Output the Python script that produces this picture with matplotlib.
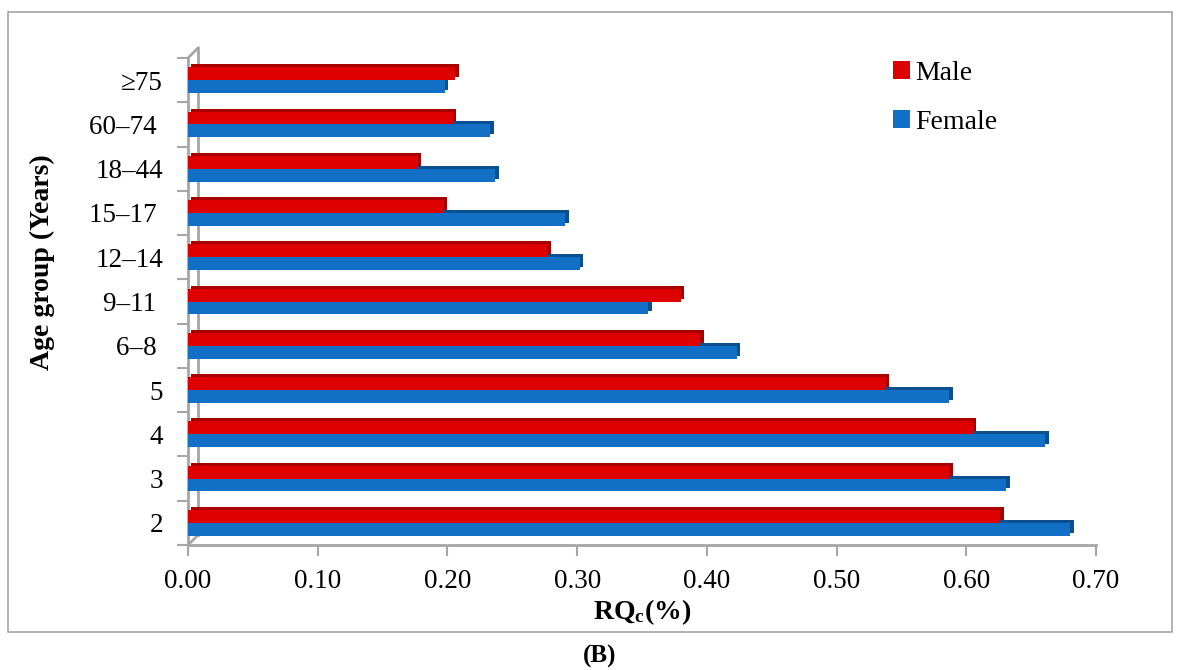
import matplotlib
matplotlib.use("Agg")
import matplotlib.pyplot as plt
import matplotlib.transforms as mtransforms
from matplotlib.patches import Rectangle, Patch
import numpy as np

categories = ["2", "3", "4", "5", "6–8 ", "9–11 ", "12–14", "15–17 ", "18–44", "60–74 ", "≥75"]
male = [0.626, 0.587, 0.605, 0.538, 0.395, 0.380, 0.277, 0.197, 0.177, 0.204, 0.206]
female = [0.680, 0.631, 0.661, 0.587, 0.423, 0.355, 0.302, 0.291, 0.237, 0.233, 0.198]
xticks = [0.0, 0.1, 0.2, 0.3, 0.4, 0.5, 0.6, 0.7]

plt.rcParams['font.family'] = ['Liberation Serif', 'DejaVu Serif']
plt.rcParams['mathtext.fontset'] = 'custom'
plt.rcParams['mathtext.rm'] = 'Liberation Serif'
plt.rcParams['mathtext.bf'] = 'Liberation Serif:bold'

RED, RED_D = '#DE0000', '#A80000'
BLUE, BLUE_D = '#1170C6', '#0B4F90'
GRAY = '#A6A6A6'

W, H = 1180, 670
fig = plt.figure(figsize=(W/100, H/100), dpi=100)
L, R, B, T = 188, 1096, 545, 58
ax = fig.add_axes([L/W, 1 - B/H, (R-L)/W, (B-T)/H])

y = np.arange(len(categories))
h = 0.29
off = mtransforms.ScaledTranslation(3.5/100, 3/100, fig.dpi_scale_trans)
shadow = ax.transData + off
# 3D sides (offset darker copies)
ax.barh(y + h/2, male, height=h, color=RED_D, transform=shadow, zorder=2)
ax.barh(y - h/2, female, height=h, color=BLUE_D, transform=shadow, zorder=2)
ax.barh(y + h/2, male, height=h, color=RED, zorder=3, label='Male')
ax.barh(y - h/2, female, height=h, color=BLUE, zorder=3, label='Female')

ax.set_xlim(0, 0.7)
ax.set_ylim(-0.5, len(categories) - 0.5)
ax.set_xticks(xticks)
ax.set_xticklabels([f"{v:.2f}" for v in xticks], fontsize=19.5)
ax.set_yticks(y)
ax.set_yticklabels(categories, fontsize=19.5)
ax.set_yticks(np.arange(-0.5, len(categories)), minor=True)
ax.tick_params(axis='y', which='major', length=0, pad=18)
ax.tick_params(axis='y', which='minor', length=8, color=GRAY, width=1.5, direction='out')
ax.tick_params(axis='x', which='major', length=8, color=GRAY, width=1.5, direction='out', pad=9)

for s in ['top', 'right']:
    ax.spines[s].set_visible(False)
for s in ['left', 'bottom']:
    ax.spines[s].set_color(GRAY)
    ax.spines[s].set_linewidth(2)

# back wall (3D depth)
dx, dy = 10/(R-L), 10/(B-T)
ax.plot([dx, dx], [dy, 1 + dy], transform=ax.transAxes, color=GRAY, lw=2, clip_on=False, zorder=1)
ax.plot([0, dx], [0, dy], transform=ax.transAxes, color=GRAY, lw=2, clip_on=False, zorder=1)
ax.plot([0, dx], [1, 1 + dy], transform=ax.transAxes, color=GRAY, lw=2, clip_on=False, zorder=1)

handles = [Patch(facecolor=RED, label='Male'), Patch(facecolor=BLUE, label='Female')]
ax.legend(handles=handles, loc='upper left', bbox_to_anchor=(868/W, 1 - 36/H),
          bbox_transform=fig.transFigure, frameon=False, fontsize=20,
          handlelength=0.6, handleheight=0.6, handletextpad=0.2, labelspacing=0.85)

fig.text(42/W, 1 - 262/H, 'Age group (Years)', rotation=90, ha='center', va='center',
         fontsize=20, fontweight='bold')
fig.text(642/W, 1 - 612/H, r'$\mathbf{RQ_c(\%)}$', ha='center', va='center', fontsize=20)
fig.text(600/W, 1 - 656/H, '(B)', ha='center', va='center', fontsize=18, fontweight='bold')

fig.patches.append(Rectangle((8/W, 1 - 632/H), 1164/W, 620/H, transform=fig.transFigure,
                             fill=False, edgecolor=GRAY, lw=1.2))

fig.savefig('out.png', dpi=100)
